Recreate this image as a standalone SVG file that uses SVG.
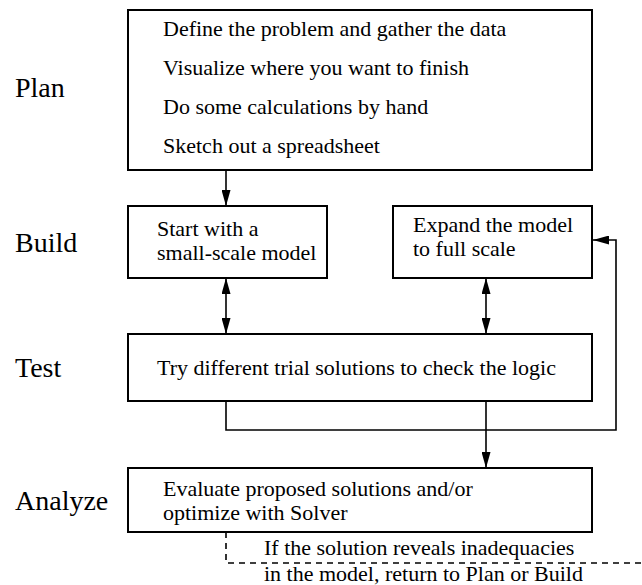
<svg xmlns="http://www.w3.org/2000/svg" width="642" height="585" viewBox="0 0 642 585">
<defs>
<marker id="ah" viewBox="0 0 16 9" refX="16" refY="4.5" markerWidth="16" markerHeight="9" markerUnits="userSpaceOnUse" orient="auto-start-reverse">
<path d="M0,0 L16,4.5 L0,9 z" fill="#000"/>
</marker>
<style>
.box{fill:#fff;stroke:#000;stroke-width:2}
.t{font-family:"Liberation Serif","Times New Roman",serif;font-size:22px;fill:#000}
.lbl{font-family:"Liberation Serif","Times New Roman",serif;font-size:28px;fill:#000}
.c{fill:none;stroke:#000;stroke-width:1.6}
.d{fill:none;stroke:#000;stroke-width:1.6;stroke-dasharray:6 5}
</style>
</defs>
<rect width="642" height="585" fill="#fff"/>
<g id="labels">
<text class="lbl" x="15" y="97">Plan</text>
<text class="lbl" x="15" y="252">Build</text>
<text class="lbl" x="15" y="377">Test</text>
<text class="lbl" x="15" y="510">Analyze</text>
</g>
<g id="connectors">
<line class="c" x1="226" y1="170" x2="226" y2="206" marker-end="url(#ah)"/>
<line class="c" x1="226" y1="278" x2="226" y2="334" marker-start="url(#ah)" marker-end="url(#ah)"/>
<line class="c" x1="486" y1="278" x2="486" y2="334" marker-start="url(#ah)" marker-end="url(#ah)"/>
<polyline class="c" points="226,401 226,430 616,430 616,240 593,240" marker-end="url(#ah)"/>
<line class="c" x1="486" y1="401" x2="486" y2="468" marker-end="url(#ah)"/>
<polyline class="d" points="226,532 226,563 642,563"/>
</g>
<g id="plan">
<rect class="box" x="128" y="10" width="464" height="160"/>
<text class="t" x="163" y="36">Define the problem and gather the data</text>
<text class="t" x="163" y="75">Visualize where you want to finish</text>
<text class="t" x="163" y="114">Do some calculations by hand</text>
<text class="t" x="163" y="153">Sketch out a spreadsheet</text>
</g>
<g id="build-small">
<rect class="box" x="128" y="206" width="199" height="72"/>
<text class="t" x="157" y="236">Start with a</text>
<text class="t" x="157" y="260">small-scale model</text>
</g>
<g id="build-full">
<rect class="box" x="393" y="206" width="199" height="72"/>
<text class="t" x="413" y="232">Expand the model</text>
<text class="t" x="413" y="256">to full scale</text>
</g>
<g id="test">
<rect class="box" x="128" y="334" width="464" height="67"/>
<text class="t" x="157" y="375">Try different trial solutions to check the logic</text>
</g>
<g id="analyze">
<rect class="box" x="128" y="468" width="464" height="64"/>
<text class="t" x="163" y="496">Evaluate proposed solutions and/or</text>
<text class="t" x="163" y="520">optimize with Solver</text>
</g>
<g id="note">
<text class="t" x="264" y="555">If the solution reveals inadequacies</text>
<text class="t" x="264" y="581">in the model, return to Plan or Build</text>
</g>
</svg>
